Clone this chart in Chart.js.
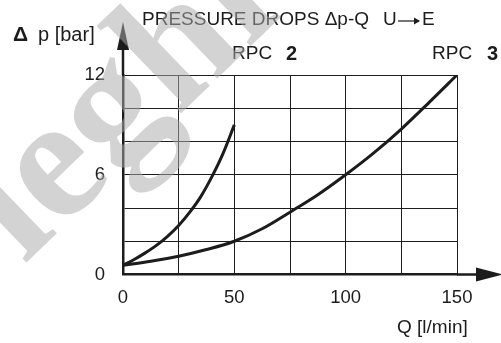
<!DOCTYPE html>
<html>
<head>
<meta charset="utf-8">
<script src="https://cdn.jsdelivr.net/npm/chart.js@4/dist/chart.umd.min.js"></script>
<style>
  html, body { margin: 0; padding: 0; background: #fff; }
  #wrap { width: 501px; height: 343px; position: relative; }
</style>
</head>
<body>
<div id="wrap"><canvas id="chart" width="501" height="343"></canvas></div>
<script>
  // flow Q [l/min] and pressure drop [bar]
  const rpc2Flow = [0, 5, 10, 15, 20, 25, 30, 35, 40, 45, 50];
  const rpc2Drop = [0.55, 0.9, 1.3, 1.75, 2.3, 2.95, 3.75, 4.7, 5.9, 7.3, 9.0];
  const rpc3Flow = [0, 12.5, 25, 37.5, 50, 62.5, 75, 87.5, 100, 112.5, 125, 137.5, 150];
  const rpc3Drop = [0.55, 0.8, 1.1, 1.5, 2.0, 2.75, 3.75, 4.8, 6.0, 7.3, 8.75, 10.35, 12.0];
  const xTickLabels = [0, 50, 100, 150];
  const yTickLabels = [0, 6, 12];

  const ink = '#1c1c1c';
  const font = '"Liberation Sans", Arial, sans-serif';

  const toPoints = (xs, ys) => xs.map((x, i) => ({ x: x, y: ys[i] }));

  const lineStyle = {
    borderColor: ink,
    borderWidth: 3,
    pointRadius: 0,
    fill: false,
    cubicInterpolationMode: 'monotone'
  };

  // watermark + annotations + axis arrows
  const decor = {
    id: 'decor',
    afterDraw(chart) {
      const ctx = chart.ctx;
      const area = chart.chartArea;
      const x0 = chart.scales.x.getPixelForValue(0);
      const y0 = chart.scales.y.getPixelForValue(0);

      ctx.save();
      ctx.fillStyle = ink;
      ctx.strokeStyle = ink;

      // y axis extension and arrow
      ctx.lineWidth = 2.5;
      ctx.beginPath();
      ctx.moveTo(x0, area.top);
      ctx.lineTo(x0, 40);
      ctx.stroke();
      ctx.beginPath();
      ctx.moveTo(x0, 22);
      ctx.lineTo(x0 - 6, 50);
      ctx.lineTo(x0 + 6, 50);
      ctx.closePath();
      ctx.fill();

      // x axis extension and arrow
      ctx.beginPath();
      ctx.moveTo(area.right, y0);
      ctx.lineTo(485, y0);
      ctx.stroke();
      ctx.beginPath();
      ctx.moveTo(503, y0);
      ctx.lineTo(476, y0 - 7);
      ctx.lineTo(476, y0 + 7);
      ctx.closePath();
      ctx.fill();

      ctx.textBaseline = 'middle';
      ctx.textAlign = 'left';
      ctx.font = 'bold 21px ' + font;
      ctx.fillText('\u0394', 13, 35);
      ctx.font = '20px ' + font;
      ctx.fillText('p [bar]', 38, 35);
      ctx.font = '19px ' + font;
      ctx.fillText('Q [l/min]', 397, 328);

      ctx.font = '19px ' + font;
      ctx.fillText('PRESSURE DROPS \u0394p-Q', 142, 20);
      ctx.fillText('U', 383, 20);
      ctx.fillText('E', 422, 20);
      // arrow of U->E
      ctx.lineWidth = 1.2;
      ctx.beginPath();
      ctx.moveTo(398, 21);
      ctx.lineTo(419, 21);
      ctx.stroke();
      ctx.beginPath();
      ctx.moveTo(420, 21);
      ctx.lineTo(414, 17.5);
      ctx.lineTo(414, 24.5);
      ctx.closePath();
      ctx.fill();

      ctx.font = '19px ' + font;
      ctx.fillText('RPC', 232, 54);
      ctx.fillText('RPC', 432, 54);
      ctx.font = 'bold 20px ' + font;
      ctx.fillText('2', 286, 54);
      ctx.fillText('3', 487, 54);

      // watermark
      ctx.translate(24, 265);
      ctx.rotate(-44 * Math.PI / 180);
      ctx.font = 'bold 175px "Liberation Serif", serif';
      ctx.fillStyle = 'rgba(170,170,170,0.52)';
      ctx.textAlign = 'left';
      ctx.textBaseline = 'alphabetic';
      ctx.fillText('leghi', 0, 0);
      ctx.restore();
    }
  };

  new Chart(document.getElementById('chart'), {
    type: 'line',
    data: {
      datasets: [
        Object.assign({ label: 'RPC 2', data: toPoints(rpc2Flow, rpc2Drop) }, lineStyle),
        Object.assign({ label: 'RPC 3', data: toPoints(rpc3Flow, rpc3Drop) }, lineStyle)
      ]
    },
    options: {
      responsive: false,
      animation: false,
      layout: { padding: { top: 75, right: 44, left: 0, bottom: 0 } },
      plugins: {
        legend: { display: false },
        tooltip: { enabled: false }
      },
      scales: {
        x: {
          type: 'linear',
          min: 0,
          max: 150,
          afterFit: s => { s.height = 68.5; },
          grid: { color: ink, lineWidth: 1, drawTicks: false },
          border: { color: ink, width: 2.5 },
          ticks: {
            stepSize: 25,
            padding: 12,
            color: ink,
            font: { family: font, size: 18.5 },
            maxRotation: 0,
            callback: v => xTickLabels.includes(v) ? String(v) : ''
          }
        },
        y: {
          min: 0,
          max: 12,
          afterFit: s => { s.width = 123; },
          grid: { color: ink, lineWidth: 1, drawTicks: false },
          border: { color: ink, width: 2.5 },
          ticks: {
            stepSize: 2,
            padding: 18,
            color: ink,
            font: { family: font, size: 18.5 },
            callback: v => yTickLabels.includes(v) ? String(v) : ''
          }
        }
      }
    },
    plugins: [decor]
  });
</script>
</body>
</html>
